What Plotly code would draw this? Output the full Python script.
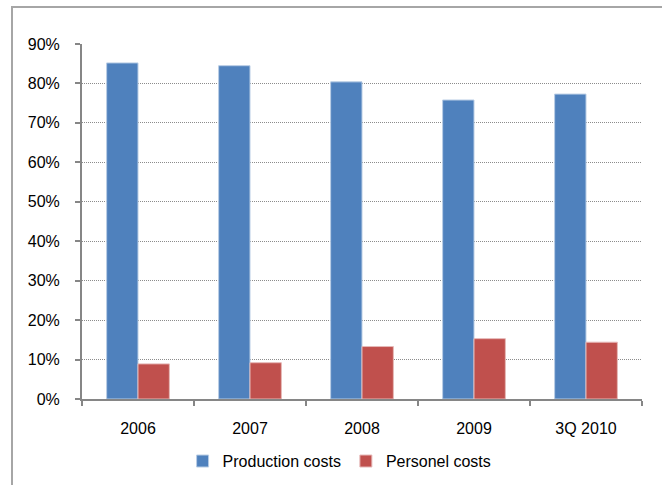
import plotly.graph_objects as go

categories = ["2006", "2007", "2008", "2009", "3Q 2010"]
production_costs = [0.852, 0.845, 0.804, 0.758, 0.773]
personel_costs = [0.089, 0.092, 0.133, 0.153, 0.144]
series_names = ["Production costs", "Personel costs"]

FONT = "Liberation Sans Narrow, Arial Narrow, Liberation Sans, sans-serif"

fig = go.Figure()
fig.add_trace(go.Bar(
    x=categories, y=production_costs, name=series_names[0],
    marker=dict(color="#4F81BD", line=dict(color="#B9CDE5", width=1)),
))
fig.add_trace(go.Bar(
    x=categories, y=personel_costs, name=series_names[1],
    marker=dict(color="#C0504D", line=dict(color="#E6B9B8", width=1)),
))

fig.update_layout(
    width=662, height=485,
    margin=dict(l=82, r=20, t=44, b=86, autoexpand=False),
    paper_bgcolor="white", plot_bgcolor="white",
    font=dict(family=FONT, size=16, color="black"),
    barmode="group", bargap=0.44, bargroupgap=0,
    showlegend=True,
    legend=dict(orientation="h", x=0.46, xanchor="center", y=-0.175, yanchor="middle",
                font=dict(size=16), itemwidth=30, traceorder="normal"),
    xaxis=dict(
        showline=True, linecolor="#868686", linewidth=2,
        ticks="outside", tickson="boundaries", ticklen=5, tickcolor="#868686", tickwidth=2,
        showgrid=False, tickfont=dict(size=16), ticklabelstandoff=14,
    ),
    yaxis=dict(
        range=[0, 0.9], dtick=0.1, tickformat=".0%",
        showline=True, linecolor="#868686", linewidth=2,
        ticks="outside", ticklen=5, tickcolor="#868686", tickwidth=2,
        showgrid=True, gridcolor="#8C8C8C", griddash="1px,1px", gridwidth=1,
        zeroline=False, tickfont=dict(size=16), ticklabelstandoff=12,
    ),
    shapes=[dict(type="rect", xref="paper", yref="paper",
                 x0=-0.125, x1=1.2, y0=-0.4, y1=1.104,
                 line=dict(color="#A6A6A6", width=2), fillcolor="rgba(0,0,0,0)", layer="below")],
)

fig.write_html("out.html")
